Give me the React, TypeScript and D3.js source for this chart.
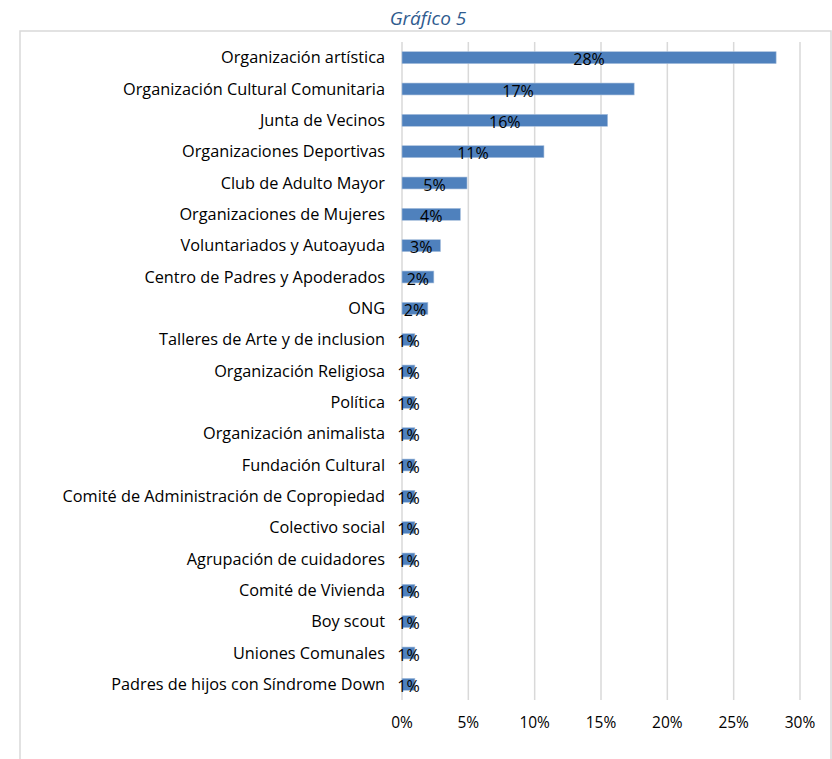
import { useEffect, useRef } from "react";
import * as d3 from "d3";

const categories = [
  "Organización artística",
  "Organización Cultural Comunitaria",
  "Junta de Vecinos",
  "Organizaciones Deportivas",
  "Club de Adulto Mayor",
  "Organizaciones de Mujeres",
  "Voluntariados y Autoayuda",
  "Centro de Padres y Apoderados",
  "ONG",
  "Talleres de Arte y de inclusion",
  "Organización Religiosa",
  "Política",
  "Organización animalista",
  "Fundación Cultural",
  "Comité de Administración de Copropiedad",
  "Colectivo social",
  "Agrupación de cuidadores",
  "Comité de Vivienda",
  "Boy scout",
  "Uniones Comunales",
  "Padres de hijos con Síndrome Down",
];

const values = [
  28.2, 17.5, 15.5, 10.7, 4.9, 4.4, 2.9, 2.4, 1.95, 0.97, 0.97, 0.97, 0.97,
  0.97, 0.97, 0.97, 0.97, 0.97, 0.97, 0.97, 0.97,
];

const valueLabels = [
  "28%", "17%", "16%", "11%", "5%", "4%", "3%", "2%", "2%", "1%", "1%", "1%",
  "1%", "1%", "1%", "1%", "1%", "1%", "1%", "1%", "1%",
];

const ticks = [0, 5, 10, 15, 20, 25, 30];

const FONT = "'Open Sans', 'Noto Sans', sans-serif";

export default function App() {
  const ref = useRef<SVGSVGElement | null>(null);

  useEffect(() => {
    if (!ref.current) return;

    const svg = d3.select(ref.current);
    svg.selectAll("*").remove();

    const height = 759;
    const margin = { top: 42, left: 402, right: 32, bottom: 59 };

    // chart frame
    svg
      .append("rect")
      .attr("x", 20)
      .attr("y", 31)
      .attr("width", 811)
      .attr("height", 740)
      .attr("fill", "none")
      .attr("stroke", "#d9d9d9")
      .attr("stroke-width", 1.5);

    svg
      .append("text")
      .attr("x", 428)
      .attr("y", 25)
      .attr("text-anchor", "middle")
      .attr("font-family", FONT)
      .attr("font-style", "italic")
      .attr("font-size", 19)
      .attr("fill", "#2f5b8f")
      .text("Gráfico 5");

    const x = d3
      .scaleLinear()
      .domain([0, 30])
      .range([margin.left, 800]);

    const y = d3
      .scaleBand()
      .domain(categories)
      .range([margin.top, height - margin.bottom])
      .paddingInner(0.62)
      .paddingOuter(0.31);

    // gridlines
    svg
      .append("g")
      .selectAll("line")
      .data(ticks)
      .join("line")
      .attr("x1", (d) => x(d))
      .attr("x2", (d) => x(d))
      .attr("y1", margin.top)
      .attr("y2", height - margin.bottom)
      .attr("stroke", "#d9d9d9")
      .attr("stroke-width", 1.5);

    // tick labels
    svg
      .append("g")
      .selectAll("text")
      .data(ticks)
      .join("text")
      .attr("x", (d) => x(d))
      .attr("y", 723)
      .attr("dy", "0.35em")
      .attr("text-anchor", "middle")
      .attr("font-family", FONT)
      .attr("font-size", 15.5)
      .attr("fill", "#000")
      .text((d) => `${d}%`);

    // category labels
    svg
      .append("g")
      .selectAll("text")
      .data(categories)
      .join("text")
      .attr("x", 385)
      .attr("y", (d) => (y(d) ?? 0) + y.bandwidth() / 2)
      .attr("dy", "0.35em")
      .attr("text-anchor", "end")
      .attr("font-family", FONT)
      .attr("font-size", 16.3)
      .attr("fill", "#000")
      .text((d) => d);

    // bars
    svg
      .append("g")
      .selectAll("rect")
      .data(values)
      .join("rect")
      .attr("x", x(0))
      .attr("y", (_, i) => y(categories[i]) ?? 0)
      .attr("width", (d) => x(d) - x(0))
      .attr("height", y.bandwidth())
      .attr("fill", "#4f81bd")
      .attr("stroke", "#a7bfdc")
      .attr("stroke-width", 0.6);

    // value labels
    svg
      .append("g")
      .selectAll("text")
      .data(values)
      .join("text")
      .attr("x", (d) => (x(0) + x(d)) / 2)
      .attr("y", (_, i) => (y(categories[i]) ?? 0) + y.bandwidth() / 2 + 2)
      .attr("dy", "0.35em")
      .attr("text-anchor", "middle")
      .attr("font-family", FONT)
      .attr("font-size", 16)
      .attr("fill", "#000")
      .text((_, i) => valueLabels[i]);
  }, []);

  return (
    <svg
      ref={ref}
      width={832}
      height={759}
      style={{ position: "absolute", left: 0, top: 0, background: "#fff" }}
    />
  );
}
